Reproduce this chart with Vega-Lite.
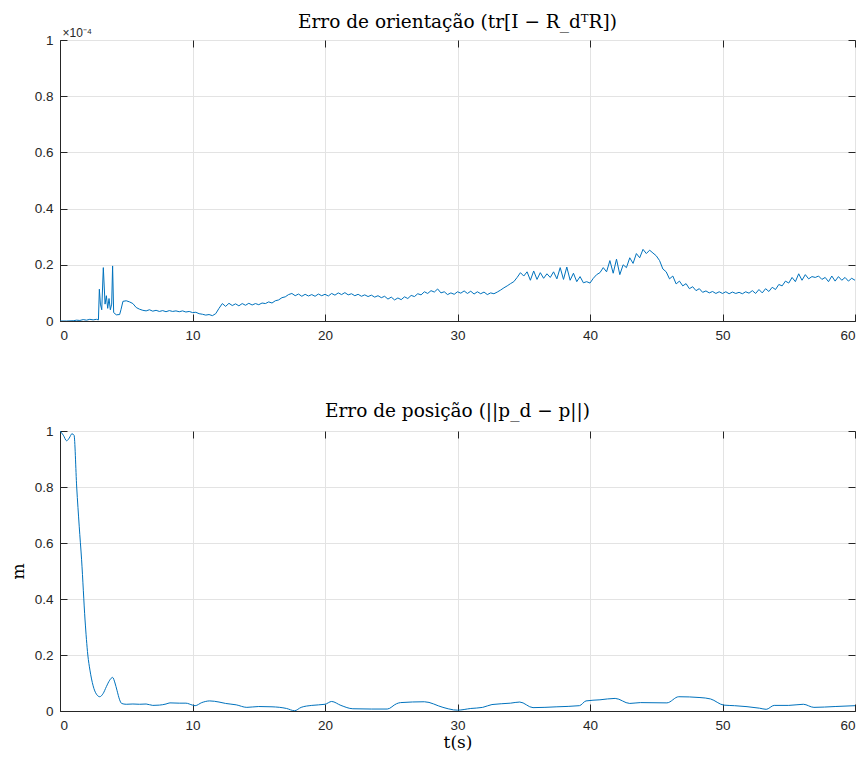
{
  "$schema": "https://vega.github.io/schema/vega-lite/v6.json",
  "autosize": {"type": "none"},
  "padding": {"left": 60, "top": 40, "right": 11, "bottom": 720},
  "background": "#ffffff",
  "spacing": 110,
  "bounds": "flush",
  "config": {
    "view": {"stroke": "#262626", "strokeWidth": 1},
    "axis": {
      "labelFont": "Liberation Sans",
      "labelFontSize": 13.5,
      "labelColor": "#262626",
      "domainColor": "#262626",
      "tickColor": "#262626",
      "gridColor": "#e3e3e3",
      "titleColor": "#000000"
    },
    "title": {"font": "DejaVu Serif", "fontSize": 18.5, "fontWeight": "normal", "color": "#000000"}
  },
  "datasets": {
    "orient": [
      {"t": 0, "e": 0}, {"t": 0.5, "e": 0}, {"t": 1.0, "e": 0.001}, {"t": 1.25, "e": 0.003}, {"t": 1.5, "e": 0.002}, {"t": 1.75, "e": 0.005}, {"t": 2.0, "e": 0.003}, {"t": 2.25, "e": 0.006}, {"t": 2.5, "e": 0.004}, {"t": 2.75, "e": 0.006}, {"t": 2.9, "e": 0.004},
      {"t": 2.97, "e": 0.113}, {"t": 3.05, "e": 0.06}, {"t": 3.15, "e": 0.04}, {"t": 3.27, "e": 0.19}, {"t": 3.4, "e": 0.06}, {"t": 3.5, "e": 0.09}, {"t": 3.6, "e": 0.045}, {"t": 3.7, "e": 0.08}, {"t": 3.8, "e": 0.04}, {"t": 3.9, "e": 0.06}, {"t": 3.97, "e": 0.196}, {"t": 4.05, "e": 0.03}, {"t": 4.25, "e": 0.022}, {"t": 4.5, "e": 0.023}, {"t": 4.6, "e": 0.04}, {"t": 4.75, "e": 0.07}, {"t": 5.0, "e": 0.072}, {"t": 5.25, "e": 0.068}, {"t": 5.5, "e": 0.062}, {"t": 5.75, "e": 0.048},
      {"t": 6.0, "e": 0.042}, {"t": 6.25, "e": 0.038}, {"t": 6.5, "e": 0.036}, {"t": 6.75, "e": 0.04}, {"t": 7.0, "e": 0.035}, {"t": 7.25, "e": 0.038}, {"t": 7.5, "e": 0.034}, {"t": 7.75, "e": 0.037}, {"t": 8.0, "e": 0.033}, {"t": 8.25, "e": 0.037}, {"t": 8.5, "e": 0.034}, {"t": 8.75, "e": 0.036}, {"t": 9.0, "e": 0.033}, {"t": 9.25, "e": 0.036}, {"t": 9.5, "e": 0.032}, {"t": 9.75, "e": 0.034},
      {"t": 10.0, "e": 0.03}, {"t": 10.25, "e": 0.031}, {"t": 10.5, "e": 0.026}, {"t": 10.75, "e": 0.024}, {"t": 11.0, "e": 0.021}, {"t": 11.25, "e": 0.023}, {"t": 11.5, "e": 0.019}, {"t": 11.75, "e": 0.026}, {"t": 12.0, "e": 0.045}, {"t": 12.25, "e": 0.062}, {"t": 12.5, "e": 0.052}, {"t": 12.75, "e": 0.063}, {"t": 13.0, "e": 0.055}, {"t": 13.25, "e": 0.061}, {"t": 13.5, "e": 0.054}, {"t": 13.75, "e": 0.062}, {"t": 14.0, "e": 0.056}, {"t": 14.25, "e": 0.063}, {"t": 14.5, "e": 0.057}, {"t": 14.75, "e": 0.062},
      {"t": 15.0, "e": 0.058}, {"t": 15.25, "e": 0.064}, {"t": 15.5, "e": 0.062}, {"t": 15.75, "e": 0.068}, {"t": 16.0, "e": 0.064}, {"t": 16.25, "e": 0.072}, {"t": 16.5, "e": 0.075}, {"t": 16.75, "e": 0.083}, {"t": 17.0, "e": 0.086}, {"t": 17.25, "e": 0.094}, {"t": 17.5, "e": 0.098}, {"t": 17.75, "e": 0.09}, {"t": 18.0, "e": 0.096}, {"t": 18.25, "e": 0.088}, {"t": 18.5, "e": 0.095}, {"t": 18.75, "e": 0.089}, {"t": 19.0, "e": 0.094}, {"t": 19.25, "e": 0.088}, {"t": 19.5, "e": 0.096}, {"t": 19.75, "e": 0.09},
      {"t": 20.0, "e": 0.095}, {"t": 20.25, "e": 0.089}, {"t": 20.5, "e": 0.098}, {"t": 20.75, "e": 0.092}, {"t": 21.0, "e": 0.1}, {"t": 21.25, "e": 0.094}, {"t": 21.5, "e": 0.101}, {"t": 21.75, "e": 0.093}, {"t": 22.0, "e": 0.097}, {"t": 22.25, "e": 0.09}, {"t": 22.5, "e": 0.095}, {"t": 22.75, "e": 0.088}, {"t": 23.0, "e": 0.093}, {"t": 23.25, "e": 0.087}, {"t": 23.5, "e": 0.092}, {"t": 23.75, "e": 0.085}, {"t": 24.0, "e": 0.09}, {"t": 24.25, "e": 0.083}, {"t": 24.5, "e": 0.088}, {"t": 24.75, "e": 0.078},
      {"t": 25.0, "e": 0.085}, {"t": 25.25, "e": 0.075}, {"t": 25.5, "e": 0.082}, {"t": 25.75, "e": 0.076}, {"t": 26.0, "e": 0.086}, {"t": 26.25, "e": 0.08}, {"t": 26.5, "e": 0.091}, {"t": 26.75, "e": 0.087}, {"t": 27.0, "e": 0.097}, {"t": 27.25, "e": 0.093}, {"t": 27.5, "e": 0.104}, {"t": 27.75, "e": 0.098}, {"t": 28.0, "e": 0.108}, {"t": 28.25, "e": 0.103}, {"t": 28.5, "e": 0.114}, {"t": 28.75, "e": 0.1}, {"t": 29.0, "e": 0.104}, {"t": 29.25, "e": 0.094}, {"t": 29.5, "e": 0.1}, {"t": 29.75, "e": 0.095},
      {"t": 30.0, "e": 0.104}, {"t": 30.25, "e": 0.099}, {"t": 30.5, "e": 0.107}, {"t": 30.75, "e": 0.098}, {"t": 31.0, "e": 0.106}, {"t": 31.25, "e": 0.096}, {"t": 31.5, "e": 0.104}, {"t": 31.75, "e": 0.097}, {"t": 32.0, "e": 0.103}, {"t": 32.25, "e": 0.094}, {"t": 32.5, "e": 0.1}, {"t": 32.75, "e": 0.097}, {"t": 33.0, "e": 0.103}, {"t": 33.25, "e": 0.11}, {"t": 33.5, "e": 0.118}, {"t": 33.75, "e": 0.125}, {"t": 34.0, "e": 0.133}, {"t": 34.25, "e": 0.14}, {"t": 34.5, "e": 0.155}, {"t": 34.75, "e": 0.172},
      {"t": 35.0, "e": 0.16}, {"t": 35.25, "e": 0.175}, {"t": 35.5, "e": 0.145}, {"t": 35.75, "e": 0.178}, {"t": 36.0, "e": 0.148}, {"t": 36.25, "e": 0.172}, {"t": 36.5, "e": 0.152}, {"t": 36.75, "e": 0.168}, {"t": 37.0, "e": 0.155}, {"t": 37.25, "e": 0.175}, {"t": 37.5, "e": 0.15}, {"t": 37.75, "e": 0.19}, {"t": 38.0, "e": 0.148}, {"t": 38.25, "e": 0.192}, {"t": 38.5, "e": 0.145}, {"t": 38.75, "e": 0.17}, {"t": 39.0, "e": 0.14}, {"t": 39.25, "e": 0.158}, {"t": 39.5, "e": 0.136}, {"t": 39.75, "e": 0.14},
      {"t": 40.0, "e": 0.135}, {"t": 40.25, "e": 0.152}, {"t": 40.5, "e": 0.165}, {"t": 40.75, "e": 0.172}, {"t": 41.0, "e": 0.19}, {"t": 41.25, "e": 0.175}, {"t": 41.5, "e": 0.215}, {"t": 41.75, "e": 0.17}, {"t": 42.0, "e": 0.22}, {"t": 42.25, "e": 0.165}, {"t": 42.5, "e": 0.2}, {"t": 42.75, "e": 0.19}, {"t": 43.0, "e": 0.225}, {"t": 43.25, "e": 0.205}, {"t": 43.5, "e": 0.24}, {"t": 43.75, "e": 0.225}, {"t": 44.0, "e": 0.255}, {"t": 44.25, "e": 0.24}, {"t": 44.5, "e": 0.252}, {"t": 44.75, "e": 0.242},
      {"t": 45.0, "e": 0.232}, {"t": 45.25, "e": 0.215}, {"t": 45.5, "e": 0.185}, {"t": 45.75, "e": 0.175}, {"t": 46.0, "e": 0.15}, {"t": 46.25, "e": 0.16}, {"t": 46.5, "e": 0.132}, {"t": 46.75, "e": 0.142}, {"t": 47.0, "e": 0.125}, {"t": 47.25, "e": 0.133}, {"t": 47.5, "e": 0.115}, {"t": 47.75, "e": 0.122}, {"t": 48.0, "e": 0.108}, {"t": 48.25, "e": 0.115}, {"t": 48.5, "e": 0.102}, {"t": 48.75, "e": 0.107}, {"t": 49.0, "e": 0.1}, {"t": 49.25, "e": 0.105}, {"t": 49.5, "e": 0.098}, {"t": 49.75, "e": 0.104},
      {"t": 50.0, "e": 0.098}, {"t": 50.25, "e": 0.104}, {"t": 50.5, "e": 0.097}, {"t": 50.75, "e": 0.103}, {"t": 51.0, "e": 0.098}, {"t": 51.25, "e": 0.102}, {"t": 51.5, "e": 0.097}, {"t": 51.75, "e": 0.104}, {"t": 52.0, "e": 0.099}, {"t": 52.25, "e": 0.108}, {"t": 52.5, "e": 0.098}, {"t": 52.75, "e": 0.112}, {"t": 53.0, "e": 0.1}, {"t": 53.25, "e": 0.115}, {"t": 53.5, "e": 0.105}, {"t": 53.75, "e": 0.12}, {"t": 54.0, "e": 0.112}, {"t": 54.25, "e": 0.13}, {"t": 54.5, "e": 0.125}, {"t": 54.75, "e": 0.142},
      {"t": 55.0, "e": 0.135}, {"t": 55.25, "e": 0.155}, {"t": 55.5, "e": 0.14}, {"t": 55.75, "e": 0.168}, {"t": 56.0, "e": 0.145}, {"t": 56.25, "e": 0.165}, {"t": 56.5, "e": 0.15}, {"t": 56.75, "e": 0.158}, {"t": 57.0, "e": 0.155}, {"t": 57.25, "e": 0.16}, {"t": 57.5, "e": 0.148}, {"t": 57.75, "e": 0.155}, {"t": 58.0, "e": 0.14}, {"t": 58.25, "e": 0.16}, {"t": 58.5, "e": 0.142}, {"t": 58.75, "e": 0.158}, {"t": 59.0, "e": 0.145}, {"t": 59.25, "e": 0.155}, {"t": 59.5, "e": 0.142}, {"t": 59.75, "e": 0.152}, {"t": 60.0, "e": 0.145}
    ],
    "pos": [
      {"t": 0, "e": 1.0}, {"t": 0.25, "e": 0.985}, {"t": 0.5, "e": 0.965}, {"t": 0.7, "e": 0.975}, {"t": 0.9, "e": 0.99}, {"t": 1.06, "e": 0.985}, {"t": 1.26, "e": 0.8}, {"t": 1.45, "e": 0.66}, {"t": 1.63, "e": 0.54}, {"t": 1.89, "e": 0.325}, {"t": 2.1, "e": 0.2}, {"t": 2.26, "e": 0.146}, {"t": 2.5, "e": 0.09}, {"t": 2.75, "e": 0.06}, {"t": 3.0, "e": 0.051}, {"t": 3.25, "e": 0.062}, {"t": 3.5, "e": 0.087}, {"t": 3.75, "e": 0.11}, {"t": 3.97, "e": 0.12}, {"t": 4.15, "e": 0.1}, {"t": 4.3, "e": 0.074}, {"t": 4.5, "e": 0.04}, {"t": 4.65, "e": 0.027},
      {"t": 5.0, "e": 0.024}, {"t": 5.5, "e": 0.025}, {"t": 6.0, "e": 0.024}, {"t": 6.5, "e": 0.025}, {"t": 7.0, "e": 0.02}, {"t": 7.5, "e": 0.021}, {"t": 8.0, "e": 0.025}, {"t": 8.3, "e": 0.029}, {"t": 9.0, "e": 0.028}, {"t": 9.5, "e": 0.028}, {"t": 10.0, "e": 0.021}, {"t": 10.2, "e": 0.019}, {"t": 10.7, "e": 0.03}, {"t": 11.3, "e": 0.036}, {"t": 12.0, "e": 0.032}, {"t": 12.5, "e": 0.027}, {"t": 13.3, "e": 0.022}, {"t": 14.1, "e": 0.013}, {"t": 15.0, "e": 0.016}, {"t": 16.0, "e": 0.015}, {"t": 17.1, "e": 0.009}, {"t": 17.7, "e": 0.001}, {"t": 18.2, "e": 0.013}, {"t": 19.0, "e": 0.02}, {"t": 20.0, "e": 0.024}, {"t": 20.5, "e": 0.034}, {"t": 21.2, "e": 0.02}, {"t": 22.1, "e": 0.008}, {"t": 23.5, "e": 0.007}, {"t": 24.7, "e": 0.007}, {"t": 25.4, "e": 0.026}, {"t": 25.7, "e": 0.03}, {"t": 27.5, "e": 0.033}, {"t": 28.9, "e": 0.013}, {"t": 29.7, "e": 0.004}, {"t": 30.0, "e": 0.003}, {"t": 31.0, "e": 0.009}, {"t": 31.9, "e": 0.013}, {"t": 32.6, "e": 0.023}, {"t": 34.0, "e": 0.028}, {"t": 34.7, "e": 0.032}, {"t": 35.7, "e": 0.012}, {"t": 37.5, "e": 0.015}, {"t": 39.2, "e": 0.019}, {"t": 39.7, "e": 0.036}, {"t": 40.75, "e": 0.04}, {"t": 41.9, "e": 0.045}, {"t": 43.0, "e": 0.027}, {"t": 43.8, "e": 0.03}, {"t": 45.8, "e": 0.029}, {"t": 46.7, "e": 0.051}, {"t": 48.3, "e": 0.048}, {"t": 49.1, "e": 0.043}, {"t": 50.1, "e": 0.021}, {"t": 50.9, "e": 0.019}, {"t": 52.8, "e": 0.01}, {"t": 53.3, "e": 0.006}, {"t": 53.9, "e": 0.02}, {"t": 55.0, "e": 0.02}, {"t": 56.1, "e": 0.024}, {"t": 56.9, "e": 0.013}, {"t": 58.5, "e": 0.016}, {"t": 60.0, "e": 0.019}
    ]
  },
  "vconcat": [
    {
      "width": 795,
      "height": 281,
      "data": {"name": "orient"},
      "title": {"text": "Erro de orientação (tr[I − R_dᵀR])", "offset": -5},
      "layer": [
        {
          "mark": {"type": "line", "color": "#0072BD", "strokeWidth": 1, "clip": true},
          "encoding": {
            "x": {"field": "t", "type": "quantitative", "scale": {"domain": [0, 60], "nice": false},
              "axis": {"orient": "bottom", "values": [0, 10, 20, 30, 40, 50, 60], "format": "d", "title": null, "grid": true, "tickSize": -7, "labelPadding": 14}},
            "y": {"field": "e", "type": "quantitative", "scale": {"domain": [0, 1], "nice": false},
              "axis": {"orient": "left", "values": [0, 0.2, 0.4, 0.6, 0.8, 1], "format": "~g", "grid": true, "tickSize": -7, "labelPadding": 14,
                "title": "×10⁻⁴", "titleFont": "Liberation Sans", "titleFontSize": 12, "titleFontWeight": "normal", "titleColor": "#262626", "titleAngle": 0, "titleAlign": "left", "titleBaseline": "alphabetic", "titleX": 2, "titleY": -4}}
          }
        },
        {
          "mark": {"type": "line", "opacity": 0},
          "encoding": {
            "x": {"field": "t", "type": "quantitative", "scale": {"domain": [0, 60], "nice": false},
              "axis": {"orient": "top", "values": [0, 10, 20, 30, 40, 50, 60], "labels": false, "domain": false, "grid": false, "tickSize": -7, "title": null}},
            "y": {"field": "e", "type": "quantitative", "scale": {"domain": [0, 1], "nice": false},
              "axis": {"orient": "right", "values": [0, 0.2, 0.4, 0.6, 0.8, 1], "labels": false, "domain": false, "grid": false, "tickSize": -7, "title": null}}
          }
        }
      ],
      "resolve": {"axis": {"x": "independent", "y": "independent"}}
    },
    {
      "width": 795,
      "height": 280,
      "data": {"name": "pos"},
      "title": {"text": "Erro de posição (||p_d − p||)", "offset": 4},
      "layer": [
        {
          "mark": {"type": "line", "color": "#0072BD", "strokeWidth": 1, "interpolate": "monotone", "clip": true},
          "encoding": {
            "x": {"field": "t", "type": "quantitative", "scale": {"domain": [0, 60], "nice": false},
              "axis": {"orient": "bottom", "values": [0, 10, 20, 30, 40, 50, 60], "format": "d", "grid": true, "tickSize": -7, "labelPadding": 14,
                "title": "t(s)", "titleFont": "DejaVu Serif", "titleFontSize": 17, "titleFontWeight": "normal", "titleBaseline": "middle", "titleY": 31}},
            "y": {"field": "e", "type": "quantitative", "scale": {"domain": [0, 1], "nice": false},
              "axis": {"orient": "left", "values": [0, 0.2, 0.4, 0.6, 0.8, 1], "format": "~g", "grid": true, "tickSize": -7, "labelPadding": 14,
                "title": "m", "titleFont": "DejaVu Serif", "titleFontSize": 17, "titleFontWeight": "normal", "titleBaseline": "middle", "titleX": -42, "titleY": 140}}
          }
        },
        {
          "mark": {"type": "line", "opacity": 0},
          "encoding": {
            "x": {"field": "t", "type": "quantitative", "scale": {"domain": [0, 60], "nice": false},
              "axis": {"orient": "top", "values": [0, 10, 20, 30, 40, 50, 60], "labels": false, "domain": false, "grid": false, "tickSize": -7, "title": null}},
            "y": {"field": "e", "type": "quantitative", "scale": {"domain": [0, 1], "nice": false},
              "axis": {"orient": "right", "values": [0, 0.2, 0.4, 0.6, 0.8, 1], "labels": false, "domain": false, "grid": false, "tickSize": -7, "title": null}}
          }
        }
      ],
      "resolve": {"axis": {"x": "independent", "y": "independent"}}
    }
  ]
}
